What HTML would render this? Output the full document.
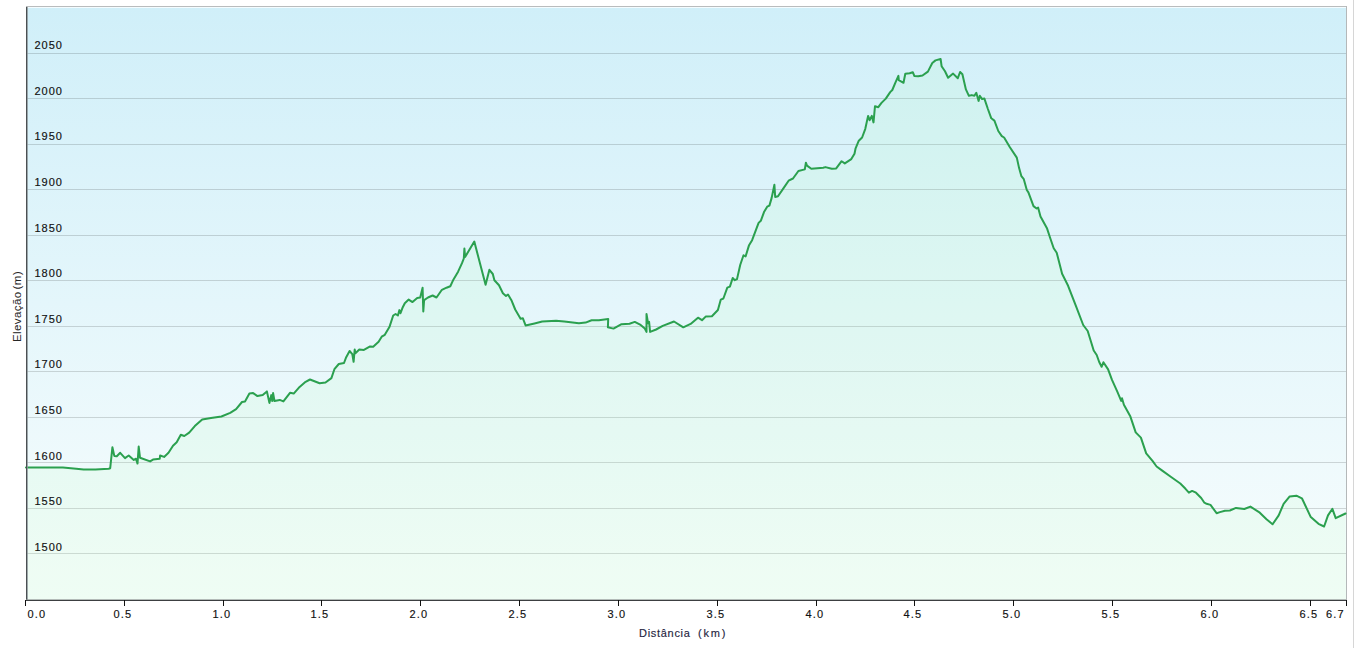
<!DOCTYPE html><html><head><meta charset="utf-8"><style>html,body{margin:0;padding:0;background:#fff;width:1354px;height:648px;overflow:hidden}svg{display:block}text{font-family:"Liberation Sans",sans-serif;stroke:currentColor;stroke-width:0.15px}</style></head><body>
<svg width="1354" height="648" viewBox="0 0 1354 648">
<defs><linearGradient id="bg" x1="0" y1="0" x2="0" y2="1"><stop offset="0" stop-color="#d0eff9"/><stop offset="1" stop-color="#f8fdfd"/></linearGradient></defs>
<rect x="0" y="0" width="1354" height="648" fill="#fff"/>
<rect x="1353" y="0" width="1" height="648" fill="#d6d6d6"/>
<rect x="26" y="6" width="1320" height="594" fill="url(#bg)"/>
<rect x="26" y="6" width="1321" height="1" fill="#b9bcbd"/>
<rect x="26" y="7" width="1320" height="1" fill="#f4fcff"/>
<rect x="26" y="53" width="1320" height="1" fill="#000000" fill-opacity="0.15"/>
<rect x="26" y="98" width="1320" height="1" fill="#000000" fill-opacity="0.15"/>
<rect x="26" y="144" width="1320" height="1" fill="#000000" fill-opacity="0.15"/>
<rect x="26" y="189" width="1320" height="1" fill="#000000" fill-opacity="0.15"/>
<rect x="26" y="235" width="1320" height="1" fill="#000000" fill-opacity="0.15"/>
<rect x="26" y="280" width="1320" height="1" fill="#000000" fill-opacity="0.15"/>
<rect x="26" y="326" width="1320" height="1" fill="#000000" fill-opacity="0.15"/>
<rect x="26" y="371" width="1320" height="1" fill="#000000" fill-opacity="0.15"/>
<rect x="26" y="417" width="1320" height="1" fill="#000000" fill-opacity="0.15"/>
<rect x="26" y="462" width="1320" height="1" fill="#000000" fill-opacity="0.15"/>
<rect x="26" y="508" width="1320" height="1" fill="#000000" fill-opacity="0.15"/>
<rect x="26" y="553" width="1320" height="1" fill="#000000" fill-opacity="0.15"/>
<polygon points="26,467.6 62.9,467.6 76.2,468.7 83.6,469.6 95.4,469.5 108.7,468.7 110.2,468.2 112.4,447.3 114.3,455.9 116.8,456.2 120.2,452.8 125,458.1 128.7,455.5 133.8,459.9 136,458.7 137.5,463.6 138.7,446.6 140,457.7 150.1,461.4 153,459.6 159.7,458.8 160.1,455.5 164.1,456.9 168.5,452.8 173,445.8 176.7,442.2 180.8,434.8 184.3,436 189.2,432.6 194.8,426.1 202.2,419.4 211,418 221.4,416.5 230.2,412.8 236.1,409.1 242,402 245,401.4 249.4,393.6 253.1,393.1 257.5,396.1 262.7,395.1 266.9,391.4 269.4,402.9 271.3,395.1 272.3,401 273.1,393.1 274.5,401 279.7,399.9 283.4,401.4 290,392.8 293.7,393.6 299.6,386.9 305.6,381.8 310,379.5 319.6,383.2 325.5,382.5 331.4,378.1 334.4,369.2 338.8,364 344,363 346.2,357.2 349.6,351 352.3,354.1 353.6,361.8 354.7,349.5 355.4,353.3 359.3,349.5 363.9,349.9 370.1,346.4 373.2,346.7 378.6,341.8 381.7,336.7 384.8,334.8 389.4,327.1 393.2,315.5 395.6,314 397.9,315.5 399.4,310.1 400.5,313.2 402.5,307.8 404.8,303.2 408.7,299.6 412.5,302.1 417.2,298.1 420.2,297.5 422.6,287.7 423.3,311.4 424.1,300.1 428,297.5 432.6,295.5 436.5,297.5 441.9,289.8 446.5,287.7 450.3,286.2 453.5,279.4 458.1,271.7 462,263.2 463.8,258.5 464.4,248.5 465.1,257 474.3,241.6 485.6,284.8 489.4,269.8 492.8,274 494.4,280.2 499,285.2 502.9,293.3 506,296 508,294.5 511.4,300.2 515.2,309.5 520.6,318.7 522.9,318.3 525.6,325.4 534.5,323.4 542.2,321.5 556.1,320.7 564.3,321.5 578.9,323.3 585.6,322.6 591.6,320.2 598.9,320.2 608.2,319 607.9,327.3 613.5,328.6 621.5,324.2 629.5,323.7 634.8,321.9 640.1,324.6 644.8,328.6 646.5,331.9 646.5,314 648.1,323.3 649.1,321.9 650.1,331.9 656.1,329.5 662.7,325.9 674,321.5 683.3,327.3 690.6,323.9 698,317.7 702,320.2 705.9,316.4 711.9,316.2 717.9,310 720.8,299.6 723.4,298.5 727.3,287.7 729.9,286.6 732.7,278 734.8,280.2 737,279.1 740.2,265 743.5,255.3 745.6,256.4 748.9,245.6 752.1,240.2 758.6,222.9 760.8,220.8 764,212.1 767.2,206.7 769.4,205.6 771.6,198.1 774.4,184.7 775.2,197 778,196.3 783.4,188.4 788.6,180.7 793,178.5 798.4,171 804.8,169.4 805.9,162.7 807,165.6 811.3,168.8 823.2,167.7 825.4,167.1 831.8,168.8 836.2,168.4 841.6,161.2 844.8,163.4 851.3,159.1 854.5,153.7 855.6,148.3 858.8,140.7 862.1,137.5 865.3,128.8 868.1,115.9 869.6,120.2 871.8,115.9 873.5,122.4 875,106.2 878.3,107.2 881.5,102.9 885.8,98.6 890.2,92.1 892.3,90 895.5,82.4 898.4,75.9 898.8,80.2 903.5,82.8 905.3,73.8 909.6,73.3 912.8,72.2 914.3,75.9 918.2,76.3 922.5,75.5 927.9,71.6 932.3,63 935.5,60.4 940.6,59 941.6,66.2 945,71.3 948.1,77.8 953.1,73.6 957.8,78.2 960.1,72 962.4,74.3 965.9,89.4 968.9,95.8 971.7,95.1 974.4,95.8 976.3,92.8 978.6,100.9 979.8,95.8 982.1,99.1 984.4,98.6 987.9,109 991.3,118.3 994.4,120.6 998.3,131 1001.8,136.1 1004.1,137.5 1009.9,147.2 1016.8,157.6 1019.1,168.1 1021.4,176.2 1023.8,179.2 1026.8,190 1028.4,192.4 1033.5,206.1 1036.6,208.5 1038.1,207.6 1040.5,216.6 1047.1,228.6 1050.1,237.7 1053.7,248.2 1056.7,252.7 1062.1,273.8 1068.1,285.8 1075.7,305.4 1083.2,325 1087.7,331 1093.7,350.5 1096.7,355 1099.2,362 1101.6,366.8 1103.4,362.3 1108.1,369.4 1112,379.9 1117.3,391.7 1121.2,400.9 1122,398.3 1123.9,404.8 1130.4,416.6 1135.7,432.4 1140.9,437.6 1146.2,453.4 1152.7,461.2 1156.6,466.5 1161.9,470.4 1171.1,477 1180.3,483.5 1185.5,488.8 1188.9,492.7 1192.1,490.9 1196,492.7 1201.2,498 1204.4,502.7 1206.6,503.8 1210.5,504.9 1216.6,513.2 1219.9,512.1 1224.9,510.8 1229.9,510.5 1236,507.9 1244.3,509 1250.4,506.6 1259.8,512.7 1266.5,519.3 1272.6,524.3 1278.7,515.4 1283.6,503.8 1289.7,496.4 1296.4,495.7 1301.9,498.3 1310.8,517.1 1318.5,523.8 1324.1,526.5 1328,515.4 1332.4,508.8 1335.7,518.2 1345.5,513.5 1346,600 26,600" fill="#aaffaa" fill-opacity="0.1"/>
<rect x="1346" y="6" width="1" height="594" fill="#b4b8b9"/>
<polyline points="26,467.6 62.9,467.6 76.2,468.7 83.6,469.6 95.4,469.5 108.7,468.7 110.2,468.2 112.4,447.3 114.3,455.9 116.8,456.2 120.2,452.8 125,458.1 128.7,455.5 133.8,459.9 136,458.7 137.5,463.6 138.7,446.6 140,457.7 150.1,461.4 153,459.6 159.7,458.8 160.1,455.5 164.1,456.9 168.5,452.8 173,445.8 176.7,442.2 180.8,434.8 184.3,436 189.2,432.6 194.8,426.1 202.2,419.4 211,418 221.4,416.5 230.2,412.8 236.1,409.1 242,402 245,401.4 249.4,393.6 253.1,393.1 257.5,396.1 262.7,395.1 266.9,391.4 269.4,402.9 271.3,395.1 272.3,401 273.1,393.1 274.5,401 279.7,399.9 283.4,401.4 290,392.8 293.7,393.6 299.6,386.9 305.6,381.8 310,379.5 319.6,383.2 325.5,382.5 331.4,378.1 334.4,369.2 338.8,364 344,363 346.2,357.2 349.6,351 352.3,354.1 353.6,361.8 354.7,349.5 355.4,353.3 359.3,349.5 363.9,349.9 370.1,346.4 373.2,346.7 378.6,341.8 381.7,336.7 384.8,334.8 389.4,327.1 393.2,315.5 395.6,314 397.9,315.5 399.4,310.1 400.5,313.2 402.5,307.8 404.8,303.2 408.7,299.6 412.5,302.1 417.2,298.1 420.2,297.5 422.6,287.7 423.3,311.4 424.1,300.1 428,297.5 432.6,295.5 436.5,297.5 441.9,289.8 446.5,287.7 450.3,286.2 453.5,279.4 458.1,271.7 462,263.2 463.8,258.5 464.4,248.5 465.1,257 474.3,241.6 485.6,284.8 489.4,269.8 492.8,274 494.4,280.2 499,285.2 502.9,293.3 506,296 508,294.5 511.4,300.2 515.2,309.5 520.6,318.7 522.9,318.3 525.6,325.4 534.5,323.4 542.2,321.5 556.1,320.7 564.3,321.5 578.9,323.3 585.6,322.6 591.6,320.2 598.9,320.2 608.2,319 607.9,327.3 613.5,328.6 621.5,324.2 629.5,323.7 634.8,321.9 640.1,324.6 644.8,328.6 646.5,331.9 646.5,314 648.1,323.3 649.1,321.9 650.1,331.9 656.1,329.5 662.7,325.9 674,321.5 683.3,327.3 690.6,323.9 698,317.7 702,320.2 705.9,316.4 711.9,316.2 717.9,310 720.8,299.6 723.4,298.5 727.3,287.7 729.9,286.6 732.7,278 734.8,280.2 737,279.1 740.2,265 743.5,255.3 745.6,256.4 748.9,245.6 752.1,240.2 758.6,222.9 760.8,220.8 764,212.1 767.2,206.7 769.4,205.6 771.6,198.1 774.4,184.7 775.2,197 778,196.3 783.4,188.4 788.6,180.7 793,178.5 798.4,171 804.8,169.4 805.9,162.7 807,165.6 811.3,168.8 823.2,167.7 825.4,167.1 831.8,168.8 836.2,168.4 841.6,161.2 844.8,163.4 851.3,159.1 854.5,153.7 855.6,148.3 858.8,140.7 862.1,137.5 865.3,128.8 868.1,115.9 869.6,120.2 871.8,115.9 873.5,122.4 875,106.2 878.3,107.2 881.5,102.9 885.8,98.6 890.2,92.1 892.3,90 895.5,82.4 898.4,75.9 898.8,80.2 903.5,82.8 905.3,73.8 909.6,73.3 912.8,72.2 914.3,75.9 918.2,76.3 922.5,75.5 927.9,71.6 932.3,63 935.5,60.4 940.6,59 941.6,66.2 945,71.3 948.1,77.8 953.1,73.6 957.8,78.2 960.1,72 962.4,74.3 965.9,89.4 968.9,95.8 971.7,95.1 974.4,95.8 976.3,92.8 978.6,100.9 979.8,95.8 982.1,99.1 984.4,98.6 987.9,109 991.3,118.3 994.4,120.6 998.3,131 1001.8,136.1 1004.1,137.5 1009.9,147.2 1016.8,157.6 1019.1,168.1 1021.4,176.2 1023.8,179.2 1026.8,190 1028.4,192.4 1033.5,206.1 1036.6,208.5 1038.1,207.6 1040.5,216.6 1047.1,228.6 1050.1,237.7 1053.7,248.2 1056.7,252.7 1062.1,273.8 1068.1,285.8 1075.7,305.4 1083.2,325 1087.7,331 1093.7,350.5 1096.7,355 1099.2,362 1101.6,366.8 1103.4,362.3 1108.1,369.4 1112,379.9 1117.3,391.7 1121.2,400.9 1122,398.3 1123.9,404.8 1130.4,416.6 1135.7,432.4 1140.9,437.6 1146.2,453.4 1152.7,461.2 1156.6,466.5 1161.9,470.4 1171.1,477 1180.3,483.5 1185.5,488.8 1188.9,492.7 1192.1,490.9 1196,492.7 1201.2,498 1204.4,502.7 1206.6,503.8 1210.5,504.9 1216.6,513.2 1219.9,512.1 1224.9,510.8 1229.9,510.5 1236,507.9 1244.3,509 1250.4,506.6 1259.8,512.7 1266.5,519.3 1272.6,524.3 1278.7,515.4 1283.6,503.8 1289.7,496.4 1296.4,495.7 1301.9,498.3 1310.8,517.1 1318.5,523.8 1324.1,526.5 1328,515.4 1332.4,508.8 1335.7,518.2 1345.5,513.5" fill="none" stroke="#2ba04f" stroke-width="2.0" stroke-linejoin="round" stroke-linecap="round"/>
<rect x="26" y="7" width="1" height="594" fill="#4b5053"/>
<rect x="27" y="7" width="1" height="593" fill="#8b9598" fill-opacity="0.8"/>
<rect x="26" y="600" width="1321" height="1" fill="#3c3f41"/>
<rect x="26" y="599" width="1320" height="1" fill="#8a9090" fill-opacity="0.6"/>
<rect x="25" y="600" width="1" height="6" fill="#111"/>
<rect x="124" y="600" width="1" height="6" fill="#111"/>
<rect x="223" y="600" width="1" height="6" fill="#111"/>
<rect x="321" y="600" width="1" height="6" fill="#111"/>
<rect x="420" y="600" width="1" height="6" fill="#111"/>
<rect x="519" y="600" width="1" height="6" fill="#111"/>
<rect x="618" y="600" width="1" height="6" fill="#111"/>
<rect x="717" y="600" width="1" height="6" fill="#111"/>
<rect x="816" y="600" width="1" height="6" fill="#111"/>
<rect x="914" y="600" width="1" height="6" fill="#111"/>
<rect x="1013" y="600" width="1" height="6" fill="#111"/>
<rect x="1112" y="600" width="1" height="6" fill="#111"/>
<rect x="1211" y="600" width="1" height="6" fill="#111"/>
<rect x="1310" y="600" width="1" height="6" fill="#111"/>
<rect x="1346" y="600" width="1" height="6" fill="#111"/>
<text x="27.5" y="618" font-size="11" letter-spacing="1.2" fill="#111" color="#111">0.0</text>
<text x="113.5" y="618" font-size="11" letter-spacing="1.2" fill="#111" color="#111">0.5</text>
<text x="212.5" y="618" font-size="11" letter-spacing="1.2" fill="#111" color="#111">1.0</text>
<text x="310.5" y="618" font-size="11" letter-spacing="1.2" fill="#111" color="#111">1.5</text>
<text x="409.5" y="618" font-size="11" letter-spacing="1.2" fill="#111" color="#111">2.0</text>
<text x="508.5" y="618" font-size="11" letter-spacing="1.2" fill="#111" color="#111">2.5</text>
<text x="607.5" y="618" font-size="11" letter-spacing="1.2" fill="#111" color="#111">3.0</text>
<text x="706.5" y="618" font-size="11" letter-spacing="1.2" fill="#111" color="#111">3.5</text>
<text x="805.5" y="618" font-size="11" letter-spacing="1.2" fill="#111" color="#111">4.0</text>
<text x="903.5" y="618" font-size="11" letter-spacing="1.2" fill="#111" color="#111">4.5</text>
<text x="1002.5" y="618" font-size="11" letter-spacing="1.2" fill="#111" color="#111">5.0</text>
<text x="1101.5" y="618" font-size="11" letter-spacing="1.2" fill="#111" color="#111">5.5</text>
<text x="1200.5" y="618" font-size="11" letter-spacing="1.2" fill="#111" color="#111">6.0</text>
<text x="1299.5" y="618" font-size="11" letter-spacing="1.2" fill="#111" color="#111">6.5</text>
<text x="1326" y="618" font-size="11" letter-spacing="1.2" fill="#111" color="#111">6.7</text>
<text x="34.5" y="49" font-size="11" letter-spacing="1.0" fill="#111" color="#111">2050</text>
<text x="34.5" y="95" font-size="11" letter-spacing="1.0" fill="#111" color="#111">2000</text>
<text x="34.5" y="140" font-size="11" letter-spacing="1.0" fill="#111" color="#111">1950</text>
<text x="34.5" y="186" font-size="11" letter-spacing="1.0" fill="#111" color="#111">1900</text>
<text x="34.5" y="232" font-size="11" letter-spacing="1.0" fill="#111" color="#111">1850</text>
<text x="34.5" y="277" font-size="11" letter-spacing="1.0" fill="#111" color="#111">1800</text>
<text x="34.5" y="323" font-size="11" letter-spacing="1.0" fill="#111" color="#111">1750</text>
<text x="34.5" y="368" font-size="11" letter-spacing="1.0" fill="#111" color="#111">1700</text>
<text x="34.5" y="414" font-size="11" letter-spacing="1.0" fill="#111" color="#111">1650</text>
<text x="34.5" y="460" font-size="11" letter-spacing="1.0" fill="#111" color="#111">1600</text>
<text x="34.5" y="505" font-size="11" letter-spacing="1.0" fill="#111" color="#111">1550</text>
<text x="34.5" y="551" font-size="11" letter-spacing="1.0" fill="#111" color="#111">1500</text>
<text x="639" y="637" font-size="11" letter-spacing="0.7" fill="#1f1f40" color="#1f1f40">Distância</text>
<text x="698" y="637" font-size="11" letter-spacing="1.8" fill="#1f1f40" color="#1f1f40">(km)</text>
<text transform="translate(21,342) rotate(-90)" x="0" y="0" font-size="11.5" letter-spacing="0.4" fill="#262626" style="stroke-width:0">Elevação</text>
<text transform="translate(21,289.5) rotate(-90)" x="0" y="0" font-size="11.5" letter-spacing="0.5" fill="#262626" style="stroke-width:0">(m)</text>
</svg></body></html>
